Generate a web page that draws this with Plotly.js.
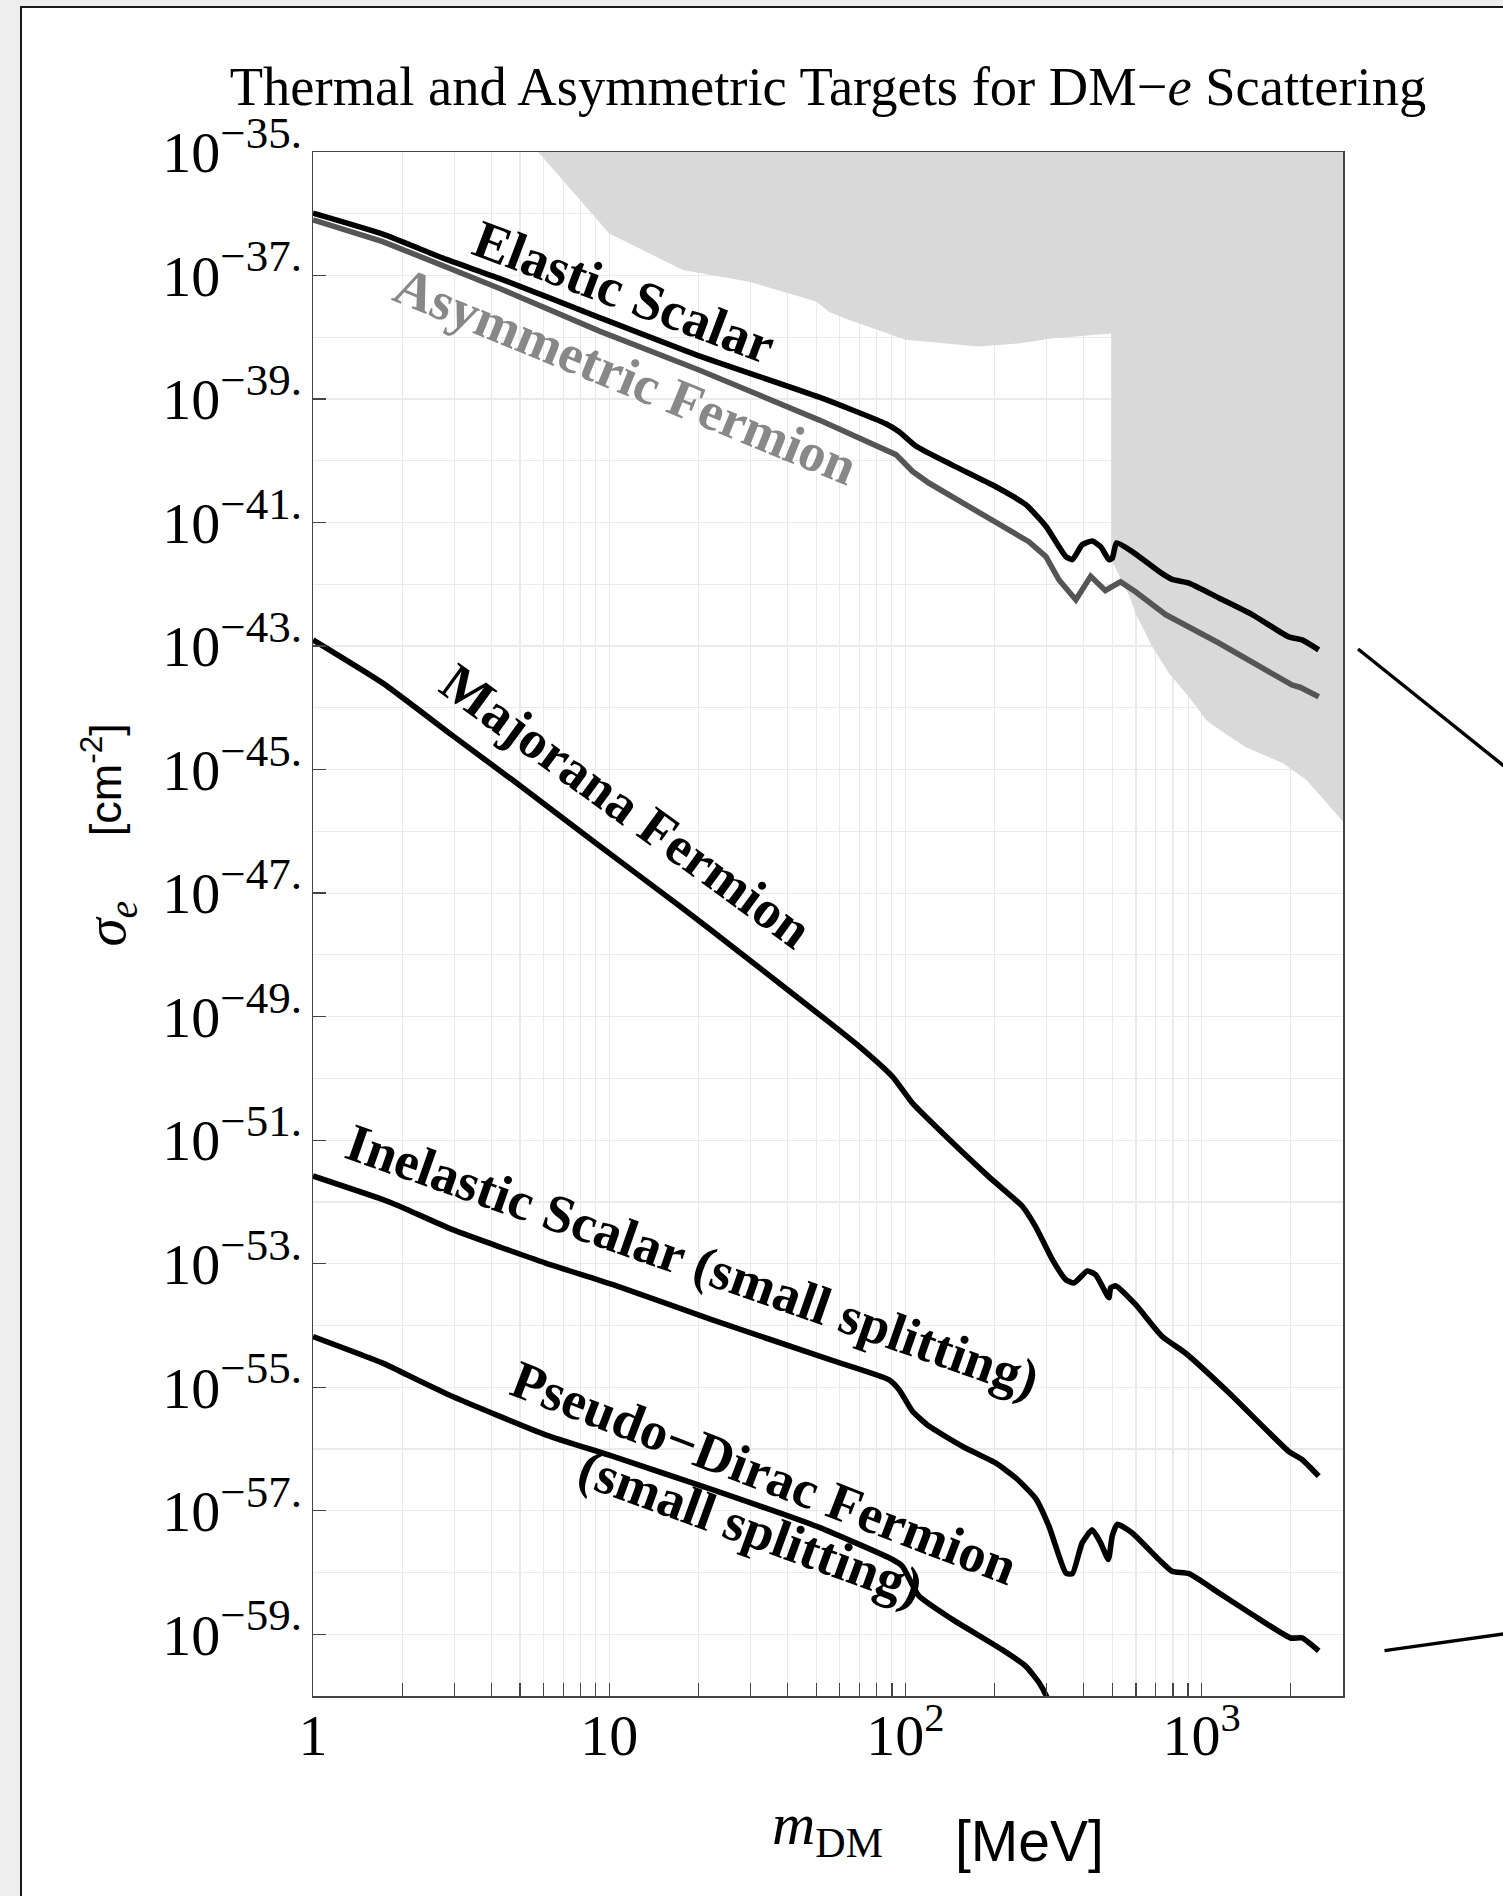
<!DOCTYPE html>
<html><head><meta charset="utf-8">
<script src="https://cdn.plot.ly/plotly-3.0.1.min.js"></script>
<style>html,body{margin:0;padding:0;background:#eeeeee;} #chart{width:1503px;height:1896px;}</style>
</head><body><div id="chart"></div>
<script>
// ---- data (m in MeV, log10 of sigma_e in cm^2) ----
const elasticMass = [1, 1.72, 2.82, 4.27, 9.27, 20.1, 51.2, 85.9, 95.2, 108.4, 144, 202, 255, 298, 348, 366, 395, 427, 456, 486, 499, 516, 583, 717, 795, 906, 1143, 1481, 1967, 2182, 2484];
const elasticLogSigma = [-35.99, -36.33, -36.74, -37.05, -37.68, -38.30, -38.97, -39.40, -39.53, -39.76, -40.07, -40.42, -40.71, -41.06, -41.55, -41.60, -41.36, -41.30, -41.39, -41.60, -41.58, -41.33, -41.47, -41.79, -41.92, -41.98, -42.22, -42.49, -42.85, -42.90, -43.06];

const asymMass = [1, 1.72, 4.27, 9.27, 20.1, 51.2, 92.9, 105.6, 120, 202, 261, 298, 330, 376, 422, 473, 532, 598, 755, 1143, 2018, 2156, 2484];
const asymLogSigma = [-36.10, -36.45, -37.21, -37.90, -38.53, -39.34, -39.90, -40.17, -40.36, -40.98, -41.31, -41.55, -41.93, -42.25, -41.87, -42.10, -41.96, -42.12, -42.49, -42.95, -43.63, -43.67, -43.82];

const majoranaMass = [1, 1.72, 2.96, 4.72, 9.0, 17.2, 28.8, 56.6, 69.8, 90.4, 105.6, 120, 191, 248, 275, 313, 348, 371, 411, 439, 486, 493, 513, 598, 736, 883, 1236, 1968, 2182, 2484];
const majoranaLogSigma = [-42.90, -43.60, -44.45, -45.17, -46.19, -47.20, -48.03, -49.13, -49.48, -49.97, -50.40, -50.67, -51.59, -52.07, -52.40, -52.93, -53.26, -53.31, -53.12, -53.18, -53.55, -53.39, -53.36, -53.66, -54.18, -54.45, -55.09, -56.04, -56.17, -56.44];

const inelasticMass = [1, 1.67, 1.96, 2.96, 6.1, 10.3, 22.3, 55.3, 88.1, 95.2, 105.6, 120, 156, 202, 236, 275, 305, 348, 366, 395, 427, 456, 484, 499, 519, 583, 717, 795, 906, 1143, 1481, 1995, 2182, 2484];
const inelasticLogSigma = [-51.58, -51.94, -52.07, -52.45, -52.99, -53.34, -53.91, -54.55, -54.88, -55.04, -55.39, -55.63, -55.96, -56.23, -56.47, -56.80, -57.25, -58.01, -58.02, -57.52, -57.31, -57.52, -57.79, -57.41, -57.22, -57.36, -57.79, -57.98, -58.02, -58.33, -58.68, -59.06, -59.06, -59.27];

const pseudoDiracMass = [1, 1.72, 1.96, 2.96, 6.1, 10.3, 22.3, 37.4, 51.2, 90.4, 97.7, 111, 144, 212, 255, 283, 301, 320];
const pseudoDiracLogSigma = [-54.18, -54.61, -54.74, -55.15, -55.77, -56.12, -56.66, -57.03, -57.27, -57.79, -57.90, -58.38, -58.76, -59.25, -59.52, -59.79, -60.03, -60.40];

// excluded (shaded) region outline
const regionMass = [5.52, 10, 17.7, 29.7, 40.5, 49.9, 55.3, 64.6, 100, 177, 242, 310, 495, 495, 572, 598, 664, 681, 776, 883, 977, 1031, 1103, 1400, 1888, 2258, 3000, 3050, 3050];
const regionLogSigma = [-34.9, -36.32, -36.91, -37.10, -37.29, -37.42, -37.59, -37.72, -38.04, -38.15, -38.10, -38.02, -37.94, -41.60, -42.20, -42.47, -42.90, -43.01, -43.44, -43.76, -44.03, -44.19, -44.30, -44.63, -44.90, -45.17, -45.84, -45.90, -34.9];

// ticks
const xMajorVals = [1, 10, 100, 1000];
const xMajorText = ['1', '10', '10<sup>2</sup>', '10<sup>3</sup>'];
const xMinorVals = [2,3,4,5,6,7,8,9,20,30,40,50,60,70,80,90,200,300,400,500,600,700,800,900,2000];
const yMajorExps = [-35,-37,-39,-41,-43,-45,-47,-49,-51,-53,-55,-57,-59];
const yMajorText = ['−35.','−37.','−39.','−41.','−43.','−45.','−47.','−49.','−51.','−53.','−55.','−57.','−59.'];
const yGridExps = [-36,-38,-40,-42,-44,-46,-48,-50,-52,-54,-56,-58,-60];

const pow10 = a => a.map(v => Math.pow(10, v));
const serif = 'Liberation Serif, Times New Roman, serif';
const sans = 'Liberation Sans, Arial, sans-serif';

const traces = [
  {x: regionMass, y: pow10(regionLogSigma), mode: 'lines', fill: 'toself', fillcolor: '#d9d9d9', line: {width: 0, color: '#d9d9d9'}, hoverinfo: 'skip', showlegend: false},
  {x: asymMass, y: pow10(asymLogSigma), mode: 'lines', line: {color: '#555555', width: 5.6}, showlegend: false},
  {x: elasticMass, y: pow10(elasticLogSigma), mode: 'lines', line: {color: '#000', width: 5.6, shape: 'spline', smoothing: 0.5}, showlegend: false},
  {x: majoranaMass, y: pow10(majoranaLogSigma), mode: 'lines', line: {color: '#000', width: 5.6, shape: 'spline', smoothing: 0.5}, showlegend: false},
  {x: inelasticMass, y: pow10(inelasticLogSigma), mode: 'lines', line: {color: '#000', width: 5.6, shape: 'spline', smoothing: 0.5}, showlegend: false},
  {x: pseudoDiracMass, y: pow10(pseudoDiracLogSigma), mode: 'lines', line: {color: '#000', width: 5.6, shape: 'spline', smoothing: 0.5}, showlegend: false}
];

const lab = (text, x, y, angle, color) => ({text: '<b>' + text + '</b>', x: x, y: y, xref: 'paper', yref: 'paper', xanchor: 'center', yanchor: 'middle', textangle: angle, showarrow: false, font: {family: serif, size: 54, color: color || '#000'}});

const layout = {
  width: 1503, height: 1896,
  margin: {l: 313, r: 160, t: 152, b: 200},
  paper_bgcolor: '#eeeeee', plot_bgcolor: '#ffffff',
  showlegend: false,
  title: {text: 'Thermal and Asymmetric Targets for DM−<i>e</i> Scattering', x: 0.5, xref: 'paper', xanchor: 'center', y: 0.9546, yref: 'container', yanchor: 'middle', font: {family: serif, size: 54.5, color: '#000'}},
  xaxis: {type: 'log', range: [0, Math.log10(3000)], tickmode: 'array', tickvals: xMajorVals, ticktext: xMajorText,
    ticks: 'inside', ticklen: 13, tickwidth: 1.3, tickcolor: '#444', showline: true, mirror: true, linecolor: '#444', linewidth: 1.5,
    showgrid: true, gridcolor: '#eaeaea', gridwidth: 1.2, zeroline: false, ticklabelstandoff: -12,
    tickfont: {family: serif, size: 58, color: '#000'},
    minor: {tickmode: 'array', tickvals: xMinorVals, ticks: 'inside', ticklen: 13, tickwidth: 1.3, tickcolor: '#444', showgrid: true, gridcolor: '#eaeaea', gridwidth: 1.2}},
  yaxis: {type: 'log', range: [-60, -35], tickmode: 'array', tickvals: pow10(yMajorExps), ticktext: yMajorText.map(s => '10<sup><span style="font-size:45px">' + s + '</span></sup>'),
    ticks: 'inside', ticklen: 13, tickwidth: 1.3, tickcolor: '#444', showline: true, mirror: true, linecolor: '#444', linewidth: 1.5,
    showgrid: true, gridcolor: '#eaeaea', gridwidth: 1.2, zeroline: false, ticklabelstandoff: -2,
    tickfont: {family: serif, size: 58, color: '#000'},
    minor: {tickmode: 'array', tickvals: pow10(yGridExps), ticks: '', showgrid: true, gridcolor: '#eaeaea', gridwidth: 1.2}},
  shapes: [
    {type: 'rect', xref: 'paper', yref: 'paper', x0: -0.2835, x1: 1.35, y0: -0.25, y1: 1.0939, fillcolor: '#ffffff', line: {color: '#1a1a1a', width: 2}, layer: 'below'},
    {type: 'line', xref: 'paper', yref: 'paper', x0: 1.0146, y0: 0.6781, x1: 1.2107, y1: 0.5732, line: {color: '#000', width: 3.4}},
    {type: 'line', xref: 'paper', yref: 'paper', x0: 1.0403, y0: 0.0294, x1: 1.2107, y1: 0.0453, line: {color: '#000', width: 3.4}}
  ],
  annotations: [
    lab('Elastic Scalar', 0.3015, 0.9093, 20.6),
    lab('Asymmetric Fermion', 0.3035, 0.8549, 22.2, '#888888'),
    lab('Majorana Fermion', 0.3040, 0.5764, 36),
    lab('Inelastic Scalar (small splitting)', 0.3690, 0.2817, 19.3),
    lab('Pseudo−Dirac Fermion', 0.4380, 0.1444, 21),
    lab('(small splitting)', 0.4250, 0.1088, 20),
    {text: '<i>σ</i><sub><i>e</i></sub>', x: -0.1975, y: 0.5000, xref: 'paper', yref: 'paper', xanchor: 'center', yanchor: 'middle', textangle: -90, showarrow: false, font: {family: serif, size: 57, color: '#000'}},
    {text: '[cm<sup>-2</sup>]', x: -0.2045, y: 0.5933, xref: 'paper', yref: 'paper', xanchor: 'center', yanchor: 'middle', textangle: -90, showarrow: false, font: {family: sans, size: 45, color: '#000'}},
    {text: '<i>m</i><sub>DM</sub>', x: 0.4995, y: -0.0860, xref: 'paper', yref: 'paper', xanchor: 'center', yanchor: 'middle', showarrow: false, font: {family: serif, size: 60, color: '#000'}},
    {text: '[MeV]', x: 0.6961, y: -0.0940, xref: 'paper', yref: 'paper', xanchor: 'center', yanchor: 'middle', showarrow: false, font: {family: sans, size: 57, color: '#000'}}
  ]
};

Plotly.newPlot('chart', traces, layout, {displayModeBar: false, staticPlot: true});
</script></body></html>
